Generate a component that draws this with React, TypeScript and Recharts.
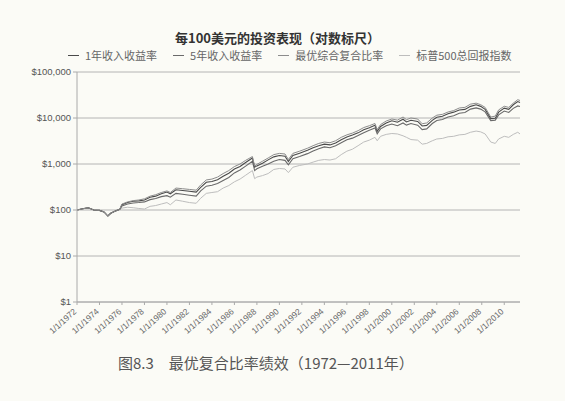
import React from "react";
import { LineChart, Line, XAxis, YAxis, CartesianGrid } from "recharts";

// time in fractional years
const times = [
    1972.0, 1972.5, 1973.0, 1973.5, 1974.0, 1974.4, 1974.75, 1975.0, 1975.5, 1975.8,
    1976.0, 1976.5, 1977.0, 1977.5, 1978.0, 1978.5, 1979.0, 1979.5, 1980.0, 1980.3,
    1980.8, 1981.4, 1982.0, 1982.6, 1983.0, 1983.5, 1984.0, 1984.5, 1985.0, 1985.5,
    1986.0, 1986.5, 1987.0, 1987.6, 1987.8, 1988.0, 1988.5, 1989.0, 1989.5, 1990.0,
    1990.5, 1990.8, 1991.2, 1991.8, 1992.5, 1993.0, 1993.5, 1994.0, 1994.5, 1995.0,
    1995.5, 1996.0, 1996.5, 1997.0, 1997.5, 1998.0, 1998.5, 1998.7, 1999.0, 1999.5,
    2000.0, 2000.5, 2001.0, 2001.3, 2001.7, 2002.3, 2002.7, 2003.1, 2003.6, 2004.0,
    2004.5, 2005.0, 2005.5, 2006.0, 2006.5, 2007.0, 2007.5, 2007.9, 2008.3, 2008.8,
    2009.2, 2009.5, 2010.0, 2010.4, 2010.8, 2011.2, 2011.4,
];

const composite = [
    100, 106, 112, 100, 98, 91, 74, 85, 97, 103,
    135, 150, 160, 165, 175, 200, 215, 240, 260, 240,
    300, 290, 280, 270, 350, 450, 470, 520, 620, 720,
    880, 1000, 1200, 1450, 900, 980, 1150, 1350, 1600, 1700,
    1650, 1250, 1700, 1900, 2200, 2500, 2800, 3000, 2900, 3200,
    3800, 4300, 4700, 5300, 6200, 6800, 7600, 5600, 7200, 8600,
    9500, 9000, 10500, 9200, 10000, 9500, 7500, 7800, 10000, 11500,
    12000, 13500, 14500, 16500, 17000, 20000, 21000, 19500, 17000, 10500,
    11000, 15000, 18000, 17000, 21000, 25000, 24000,
];

const oneYear = [
    100, 106, 112, 100, 98, 91, 74, 85, 97, 103,
    130, 145, 155, 158, 165, 190, 200, 225, 245, 225,
    275, 265, 255, 245, 310, 400, 415, 455, 540, 630,
    780, 880, 1080, 1350, 850, 910, 1040, 1230, 1430, 1530,
    1480, 1130, 1530, 1720, 1980, 2250, 2500, 2700, 2600, 2850,
    3350, 3850, 4250, 4750, 5550, 6150, 6950, 5150, 6550, 7750,
    8700, 8100, 9400, 8200, 8900, 8400, 6700, 6900, 8900, 10400,
    10900, 12400, 13400, 14900, 15400, 17900, 19400, 17900, 15400, 9700,
    9900, 13400, 16400, 15400, 19400, 22800, 21800,
];

const fiveYear = [
    100, 106, 112, 100, 98, 91, 74, 85, 97, 103,
    122, 135, 142, 145, 150, 168, 178, 195, 205, 190,
    230, 220, 210, 200, 260, 330, 345, 375, 440, 510,
    640, 740, 900, 1150, 720, 790, 890, 1000, 1150, 1250,
    1200, 960, 1300, 1450, 1680, 1920, 2150, 2350, 2250, 2500,
    2900, 3350, 3650, 4150, 4800, 5400, 6100, 4550, 5800, 6800,
    7400, 6800, 7800, 7000, 7600, 7000, 5600, 5800, 7600, 8800,
    9300, 10500, 11200, 12700, 13200, 15600, 16600, 15600, 13600, 8800,
    9000, 11700, 14200, 13200, 16200, 18300, 17800,
];

const sp500 = [
    100, 106, 112, 100, 98, 91, 74, 85, 97, 103,
    110, 115, 112, 108, 105, 120, 125, 135, 145, 130,
    165, 155, 145, 140, 180, 230, 240, 250, 300, 340,
    410, 470, 570, 720, 480, 520, 560, 620, 760, 800,
    780, 650, 850, 930, 1000, 1100, 1200, 1250, 1220, 1300,
    1600, 1900, 2100, 2500, 3000, 3300, 3800, 3200, 4000, 4400,
    4600, 4500, 4100, 3800, 3400, 3300, 2700, 2800, 3200, 3500,
    3600, 3900, 4000, 4300, 4400, 4900, 5200, 5000, 4500, 3000,
    2800, 3500, 4000, 3800, 4400, 4900, 4500,
];

const xTicks = [
    1972, 1974, 1976, 1978, 1980, 1982, 1984, 1986, 1988, 1990,
    1992, 1994, 1996, 1998, 2000, 2002, 2004, 2006, 2008, 2010,
];
const yTicks = [1, 10, 100, 1000, 10000, 100000];

const seriesNames = ["1年收入收益率", "5年收入收益率", "最优综合复合比率", "标普500总回报指数"];
const seriesColors = ["#4a4a4a", "#6a6a6a", "#8c8c8c", "#bdbdbd"];

const data = times.map((t, i) => ({
    t,
    y1: oneYear[i],
    y5: fiveYear[i],
    comp: composite[i],
    sp: sp500[i],
}));

const numFont = '"Liberation Sans", Arial, sans-serif';
const cjkFont = '"Noto Sans CJK SC", "Noto Sans", sans-serif';

const XTick = (props: any) => {
    const { x, y, payload } = props;
    return (
        <g transform={`translate(${x - 2},${y + 3})`}>
            <text
                textAnchor="end"
                transform="rotate(-42)"
                fontSize={8.5}
                fill="#666"
                fontFamily={numFont}
                dy={3}
            >
                {`1/1/${payload.value}`}
            </text>
        </g>
    );
};

export default function App() {
    return (
        <div
            style={{
                position: "absolute",
                left: 0,
                top: 0,
                width: 565,
                height: 401,
                background: "#fbfbf6",
                overflow: "hidden",
            }}
        >
            <div
                style={{
                    position: "absolute",
                    top: 28,
                    left: 0,
                    width: 555,
                    textAlign: "center",
                    fontFamily: cjkFont,
                    fontWeight: 700,
                    fontSize: 13,
                    color: "#333",
                }}
            >
                每100美元的投资表现（对数标尺）
            </div>
            <div
                style={{
                    position: "absolute",
                    top: 47,
                    left: 68,
                    display: "flex",
                    gap: 16,
                    fontFamily: cjkFont,
                    fontSize: 11,
                    color: "#666",
                    whiteSpace: "nowrap",
                }}
            >
                {seriesNames.map((n, i) => (
                    <span key={n} style={{ display: "flex", alignItems: "center" }}>
                        <span
                            style={{
                                display: "inline-block",
                                width: 11,
                                height: 1,
                                background: seriesColors[i],
                                marginRight: 6,
                            }}
                        />
                        {n}
                    </span>
                ))}
            </div>
            <LineChart
                width={565}
                height={401}
                data={data}
                margin={{ top: 72, right: 45, bottom: 39, left: 0 }}
                style={{ position: "absolute", left: 0, top: 0 }}
            >
                <CartesianGrid vertical={false} stroke="#b4b4b4" horizontalValues={yTicks} />
                <XAxis
                    dataKey="t"
                    type="number"
                    domain={[1972, 2011.4]}
                    ticks={xTicks}
                    interval={0}
                    height={60}
                    tick={<XTick />}
                    axisLine={{ stroke: "#aaa" }}
                    tickLine={{ stroke: "#aaa" }}
                    tickSize={3}
                />
                <YAxis
                    scale="log"
                    domain={[1, 100000]}
                    ticks={yTicks}
                    allowDataOverflow
                    width={77}
                    tickFormatter={(v: number) => "$" + v.toLocaleString("en-US")}
                    tick={{ fontSize: 9.5, fill: "#555", fontFamily: numFont }}
                    axisLine={{ stroke: "#aaa" }}
                    tickLine={{ stroke: "#aaa" }}
                    tickSize={4}
                />
                <Line dataKey="sp" stroke={seriesColors[3]} strokeWidth={1} dot={false} isAnimationActive={false} />
                <Line dataKey="y5" stroke={seriesColors[1]} strokeWidth={1.1} dot={false} isAnimationActive={false} />
                <Line dataKey="y1" stroke={seriesColors[0]} strokeWidth={1.1} dot={false} isAnimationActive={false} />
                <Line dataKey="comp" stroke={seriesColors[2]} strokeWidth={1} dot={false} isAnimationActive={false} />
            </LineChart>
            <div
                style={{
                    position: "absolute",
                    top: 352,
                    left: 118,
                    fontFamily: cjkFont,
                    fontSize: 15,
                    color: "#555",
                    whiteSpace: "nowrap",
                }}
            >
                图8.3　最优复合比率绩效（1972—2011年）
            </div>
        </div>
    );
}
